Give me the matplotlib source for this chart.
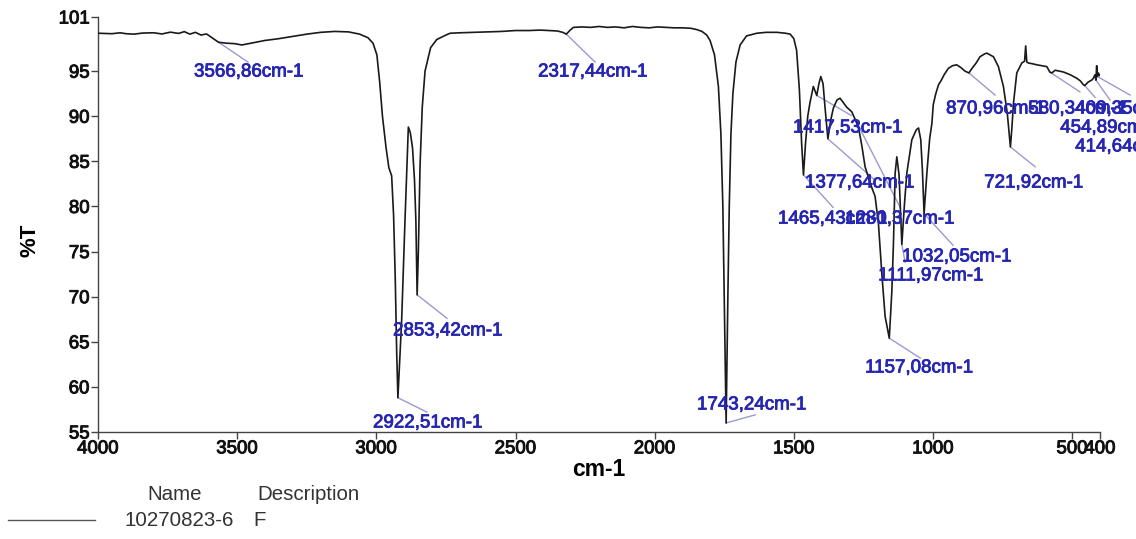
import numpy as np
import matplotlib
matplotlib.use("Agg")
import matplotlib.pyplot as plt
import matplotlib.patheffects as pe

plt.rcParams["font.family"] = ["Liberation Sans", "DejaVu Sans"]

# FT-IR spectrum of sample 10270823-6 (wavenumber in cm-1, transmittance in %T)
wavenumber = [
    4000, 3950, 3920, 3900, 3870, 3840, 3800, 3770, 3740, 3710, 3690, 3670, 3650,
    3630, 3610, 3590, 3566.86, 3540, 3510, 3483, 3450, 3400, 3350, 3300, 3250,
    3200, 3150, 3100, 3060, 3030, 3012, 2998, 2988, 2978, 2965, 2955, 2945,
    2938, 2932, 2927, 2922.51, 2909, 2897, 2885, 2878, 2870, 2863, 2858,
    2853.42, 2849, 2843, 2835, 2825, 2805, 2783, 2750, 2735, 2700, 2650, 2600,
    2550, 2500, 2450, 2412, 2380, 2350, 2330, 2317.44, 2305, 2292, 2260, 2230,
    2200, 2170, 2140, 2110, 2080, 2050, 2020, 1990, 1960, 1930, 1900, 1870,
    1848, 1830, 1813, 1801, 1785, 1771, 1762, 1755, 1750, 1743.24, 1737, 1732,
    1726, 1719, 1708, 1693, 1670, 1633, 1600, 1560, 1530, 1513, 1500, 1490,
    1480, 1472, 1465.43, 1458, 1450, 1442, 1430, 1417.53, 1410, 1403, 1395,
    1388, 1377.64, 1368, 1358, 1345, 1334, 1322, 1310, 1292, 1280.37, 1268,
    1256, 1244, 1226, 1208, 1196, 1184, 1172, 1157.08, 1148, 1142, 1136, 1130,
    1122, 1111.97, 1102, 1094, 1076, 1060, 1052, 1044, 1038, 1032.05, 1022,
    1012, 1004, 999, 990, 980, 970, 960, 945, 930, 915, 900, 885, 870.96, 860,
    845, 831, 815, 807, 795, 783, 765, 747, 733, 726, 721.92, 717, 711, 699,
    681, 671, 667, 663, 657, 640, 627, 610, 591, 580.34, 573, 561, 545, 531,
    507, 483, 470, 460, 454.89, 442, 430, 424, 418, 414.64, 412, 409.35, 406,
    402, 400,
]
transmittance = [
    99.20, 99.15, 99.25, 99.15, 99.10, 99.22, 99.25, 99.12, 99.32, 99.18, 99.38,
    99.10, 99.30, 99.00, 99.12, 98.70, 98.20, 98.10, 98.05, 97.90, 98.10, 98.40,
    98.60, 98.85, 99.10, 99.30, 99.40, 99.35, 99.10, 98.70, 98.10, 96.80, 93.80,
    90.00, 86.50, 84.30, 83.40, 79.00, 72.00, 64.00, 58.80, 67.40, 78.50, 88.80,
    88.20, 86.50, 83.00, 78.50, 70.20, 75.00, 84.50, 91.00, 95.00, 97.60, 98.50,
    99.00, 99.20, 99.25, 99.30, 99.35, 99.40, 99.50, 99.50, 99.55, 99.50, 99.45,
    99.30, 99.10, 99.50, 99.85, 99.90, 99.85, 99.95, 99.85, 99.90, 99.80, 99.95,
    99.85, 99.80, 99.90, 99.85, 99.80, 99.80, 99.75, 99.60, 99.40, 99.00, 98.40,
    96.80, 93.30, 88.00, 80.00, 70.00, 56.00, 70.00, 80.00, 88.00, 92.50, 96.00,
    97.90, 98.90, 99.20, 99.30, 99.30, 99.20, 99.10, 98.60, 97.30, 92.90, 87.00,
    83.50, 87.00, 90.00, 91.50, 93.30, 92.30, 93.60, 94.40, 93.60, 91.00, 87.50,
    89.50, 90.90, 91.80, 92.00, 91.50, 91.00, 90.50, 89.70, 88.80, 86.80, 84.40,
    82.60, 81.10, 78.10, 72.60, 67.80, 65.40, 70.50, 76.00, 83.70, 85.50, 83.50,
    75.80, 80.50, 83.70, 87.40, 88.50, 88.70, 87.40, 84.00, 79.20, 83.70, 87.50,
    89.20, 91.30, 92.50, 93.50, 94.00, 94.60, 95.30, 95.60, 95.70, 95.40, 95.00,
    94.80, 95.30, 95.90, 96.60, 96.90, 97.00, 96.80, 96.60, 95.50, 93.30, 90.30,
    88.00, 86.60, 88.50, 91.40, 94.80, 95.90, 96.10, 97.80, 96.00, 95.90, 95.80,
    95.70, 95.60, 95.50, 94.90, 94.80, 95.10, 95.00, 94.90, 94.60, 94.20, 93.90,
    93.50, 93.40, 93.80, 94.00, 94.20, 94.60, 94.00, 95.60, 94.40, 94.80, 94.50,
    94.60,
]

# Picked peaks (cm-1)
peak_wn = [3566.86, 2317.44, 2922.51, 2853.42, 1743.24, 1417.53, 1377.64,
           1465.43, 1280.37, 1157.08, 1111.97, 1032.05, 870.96, 721.92,
           580.34, 454.89, 414.64, 409.35]

# Annotation layout: text anchor (left, centre) and leader end, both in data units
label_xy = [(3655, 94.9), (2419, 94.9), (3012, 56.0), (2940, 66.2),
            (1848, 58.0), (1503, 88.7), (1460, 82.6), (1557, 78.6),
            (1316, 78.6), (1244, 62.1), (1197, 72.3), (1111, 74.4),
            (953, 90.8), (816, 82.6), (658, 90.8), (543, 88.7),
            (489, 86.6), (489, 90.8)]
leader_end = [(3461, 96.0), (2214, 96.0), (2818, 57.2), (2746, 67.6),
              (1639, 56.9), (1294, 90.1), (1208, 82.9), (1359, 79.9),
              (1118, 79.9), (1046, 63.2), (1100, 73.8), (928, 75.7),
              (777, 92.35), (633, 84.4), (472, 92.7), (418, 92.1),
              (364, 91.8), (292, 92.35)]

x_ticks = [4000, 3500, 3000, 2500, 2000, 1500, 1000, 500, 400]
y_ticks = [55, 60, 65, 70, 75, 80, 85, 90, 95, 101]

W, H = 1136, 539
fig = plt.figure(figsize=(W / 100, H / 100), dpi=100)
ax = fig.add_axes([98 / W, 1 - 432 / H, 1002 / W, 415 / H])

ax.plot(wavenumber, transmittance, color="#1a1a1a", lw=1.2, zorder=3)

ax.set_xlim(4000, 400)
ax.set_ylim(55, 101)
ax.set_xticks(x_ticks)
ax.set_xticklabels([str(t) for t in x_ticks])
ax.set_yticks(y_ticks)
ax.set_yticklabels([str(t) for t in y_ticks])

for s in ("top", "right"):
    ax.spines[s].set_visible(False)
for s in ("left", "bottom"):
    ax.spines[s].set_color("#444444")
    ax.spines[s].set_linewidth(1.0)
ax.tick_params(direction="out", length=5, width=1, color="#444444",
               labelsize=13.4, labelcolor="#111111", pad=1)
heavy_dark = [pe.withStroke(linewidth=0.7, foreground="#111111")]
for lab in ax.get_xticklabels() + ax.get_yticklabels():
    lab.set_path_effects(heavy_dark)

label_color = "#2626b0"
leader_color = "#9a9ad0"
heavy_blue = [pe.withStroke(linewidth=0.6, foreground=label_color)]
for wn, (tx, ty), (lx, ly) in zip(peak_wn, label_xy, leader_end):
    t = np.interp(wn, wavenumber[::-1], transmittance[::-1])
    ax.plot([wn, lx], [t, ly], color=leader_color, lw=1.0, clip_on=False,
            zorder=2)
    txt = f"{wn:.2f}".replace(".", ",") + "cm-1"
    ax.text(tx, ty, txt, color=label_color, fontsize=13.5, ha="left",
            va="center", clip_on=False, zorder=4, path_effects=heavy_blue)

fig.text(599 / W, 1 - 470 / H, "cm-1", fontsize=16.5, fontweight="bold",
         ha="center", va="center")
fig.text(30 / W, 1 - 240 / H, "%T", fontsize=16, fontweight="bold",
         rotation=90, ha="center", va="center")

# Legend table under the plot
legend_color = "#333333"
fig.text(175 / W, 1 - 494 / H, "Name", fontsize=14.8, color=legend_color,
         ha="center", va="center")
fig.text(257 / W, 1 - 494 / H, "Description", fontsize=14.8,
         color=legend_color, ha="left", va="center")
fig.add_artist(plt.Line2D([8 / W, 95 / W], [1 - 520 / H, 1 - 520 / H],
                          color="#555555", lw=1.0))
fig.text(125 / W, 1 - 520 / H, "10270823-6", fontsize=14.8,
         color=legend_color, ha="left", va="center")
fig.text(253 / W, 1 - 520 / H, "F", fontsize=14.8, color=legend_color,
         ha="left", va="center")

fig.savefig("out.png", dpi=100)
